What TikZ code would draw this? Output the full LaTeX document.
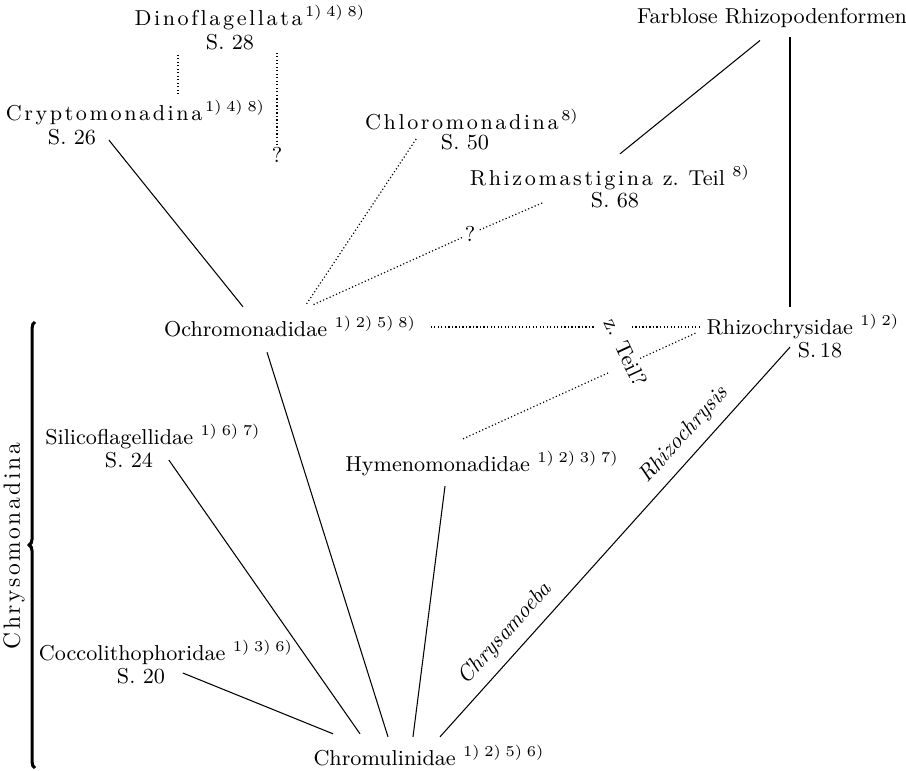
\documentclass[tikz,border=0pt]{standalone}
\usepackage{fontspec}
\usetikzlibrary{calc,decorations.pathreplacing}

\newcommand{\fn}[1]{\textsuperscript{#1)}}
% letter spaced group names
\def\spread#1{\spreadnext#1\spreadend}
\def\spreadnext#1{\ifx#1\spreadend\else#1\kern1.1pt\relax\expandafter\spreadnext\fi}

\begin{document}
\begin{tikzpicture}[x=0.015cm,y=-0.015cm,
        every node/.style={font=\fontsize{9.2}{11}\selectfont, inner sep=1pt},
        link/.style={line width=0.45pt},
        maybe/.style={line width=0.5pt, densely dotted},
        genus/.style={font=\fontsize{9.6}{11}\selectfont\itshape}]
            \useasboundingbox (0,0) rectangle (906,771);

            % upper groups
            \node (dino) at (250,18) {\spread{Dinoflagellata}\fn{1}\,\fn{4}\,\fn{8}};
            \node (dinoS) at (230,42) {S. 28};
            \node[anchor=west] (crypto) at (3,113) {\spread{Cryptomonadina}\fn{1}\,\fn{4}\,\fn{8}};
            \node (cryptoS) at (72,137) {S. 26};
            \node (chloro) at (472,120) {\spread{Chloromonadina}\fn{8}};
            \node (chloroS) at (465,142) {S. 50};
            \node (farblose) at (772,18) {Farblose Rhizopodenformen};
            \node (rhizom) at (610,178) {\spread{Rhizomastigina} z. Teil \fn{8}};
            \node (rhizomS) at (615,200) {S. 68};
            \node (q1) at (277,155) {?};
            \node (q2) at (470,234) {?};

            % families
            \node (ochro) at (290,327) {Ochromonadidae \fn{1}\,\fn{2}\,\fn{5}\,\fn{8}};
            \node (rhizoc) at (803,327) {Rhizochrysidae \fn{1}\,\fn{2}};
            \node (rhizocS) at (820,350) {S.\,18};
            \node (silico) at (153,437) {Silicoflagellidae \fn{1}\,\fn{6}\,\fn{7}};
            \node (silicoS) at (129,460) {S. 24};
            \node (hymeno) at (482,464) {Hymenomonadidae \fn{1}\,\fn{2}\,\fn{3}\,\fn{7}};
            \node (cocco) at (166,652) {Coccolithophoridae \fn{1}\,\fn{3}\,\fn{6}};
            \node (coccoS) at (141,676) {S. 20};
            \node (chromu) at (429,756) {Chromulinidae \fn{1}\,\fn{2}\,\fn{5}\,\fn{6}};
            \node[rotate=-65] (teil) at (626,352) {z. Teil?};
            \node[rotate=90, font=\fontsize{10}{12}\selectfont] (chryso) at (14,545) {\spread{Chrysomonadina}};

            \draw[decorate,decoration={brace,amplitude=2.5pt},line width=1.3pt] (35,768) -- (35,322);

            % uncertain links
            \draw[maybe] ($(dinoS.south)+(-52,2)$) -- ($(crypto.north west)+(175,-2)$);
            \draw[maybe] ($(dinoS.south)+(47,0)$) -- (q1.north);
            \draw[maybe] ($(chloroS.west)+(-22,-3)$) -- ($(ochro.north)+(16,-9)$);
            \draw[maybe] ($(rhizomS.west)+(-46,3)$) -- (q2) -- ($(ochro.north)+(23,-9)$);
            \draw[maybe] ($(ochro.east)+(12,0)$) -- ($(rhizoc.west)+(-108,0)$)
                ($(rhizoc.west)+(-72,0)$) -- ($(rhizoc.west)+(-2,0)$);
            \coordinate (hy) at ($(hymeno.north)+(-19,-10)$);
            \coordinate (rc) at ($(rhizoc.west)+(-8,6)$);
            \draw[maybe] (hy) -- ($(hy)!0.63!(rc)$) ($(hy)!0.76!(rc)$) -- (rc);

            % sure links
            \draw[link] ($(cryptoS.east)+(10,3)$) -- ($(ochro.north)+(-47,-7)$);
            \draw[link] ($(farblose.south)+(-12,10)$) -- ($(rhizom.north)+(10,-9)$);
            \draw[link] ($(farblose.south)+(18,7)$) -- ($(rhizoc.north)+(-13,-5)$);
            \draw[link] ($(ochro.south)+(-23,12)$) -- ($(chromu.north)+(-41,-6)$);
            \draw[link] ($(silicoS.east)+(13,0)$) -- ($(chromu.north)+(-69,-9)$);
            \draw[link] ($(coccoS.east)+(15,-3)$) -- ($(chromu.north)+(-96,-9)$);
            \draw[link] ($(hymeno.south)+(-37,7)$) -- ($(chromu.north)+(-16,-6)$);
            \draw[link] ($(chromu.north)+(11,-6)$) --
                node[genus, sloped, above=3pt, pos=0.23] (chrysam) {Chrysamoeba}
                node[genus, sloped, above=3pt, pos=0.74] (rhizochr) {Rhizochrysis}
                ($(rhizoc.south)+(-13,5)$);
        \end{tikzpicture}
\end{document}
